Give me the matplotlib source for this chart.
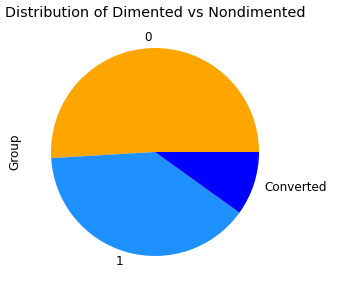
import matplotlib.pyplot as plt

# group counts
labels = ['0', '1', 'Converted']
counts = [190, 146, 37]
colors = ['orange', 'dodgerblue', 'blue']

fig = plt.figure(figsize=(351 / 72, 291 / 72), dpi=72)
ax = fig.add_axes([25 / 351, 1 - 282 / 291, 260 / 351, 260 / 291])
ax.pie(counts, labels=labels, colors=colors, textprops={'fontsize': 12})
ax.set_ylabel('Group', fontsize=12)
ax.set_title('Distribution of Dimented vs Nondimented', fontsize=14.4, pad=5)
ax.set_aspect('equal')
plt.savefig('out.png', dpi=72)
